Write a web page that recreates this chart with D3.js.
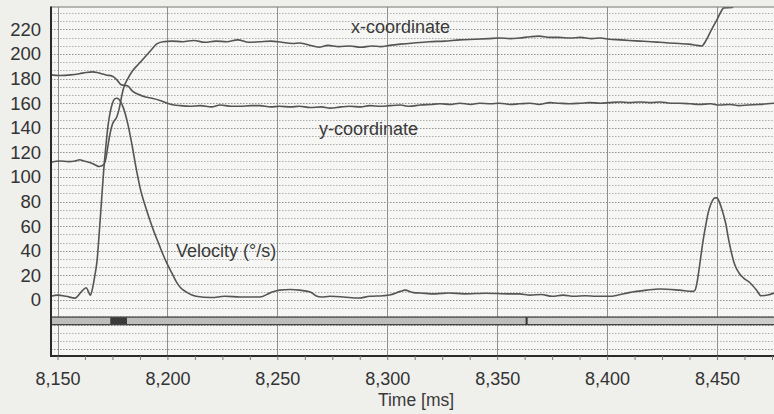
<!DOCTYPE html>
<html lang="en">
<head>
<meta charset="UTF-8">
<script src="https://d3js.org/d3.v7.min.js"></script>
<style>
    body { margin: 0; background: #efefec; }
    svg { display: block; font-family: "Liberation Sans", Arial, sans-serif; }
</style>
</head>
<body>
<div id="chart"></div>
<script>
// data: [time ms, value]
var xCoord = [
    [8147, 112], [8151, 113], [8155, 112.5], [8158, 113], [8160, 114], [8162, 113], [8165, 111.5],
    [8167, 110], [8169, 108.5], [8171, 110], [8172, 115], [8173, 126], [8174, 136], [8175, 143],
    [8177, 149], [8178, 155], [8179, 164], [8180, 172], [8182, 180], [8184, 186], [8187, 192],
    [8190, 198], [8193, 204], [8195, 208], [8198, 210], [8202, 210.5], [8207, 210], [8212, 211],
    [8217, 209.5], [8222, 210.5], [8227, 210], [8232, 211.5], [8237, 209.5], [8242, 210],
    [8247, 210.5], [8252, 209.5], [8257, 208.5], [8260, 209], [8264, 207.5], [8269, 205.5],
    [8273, 207], [8278, 206], [8283, 206.5], [8288, 205.5], [8293, 206.5], [8297, 206],
    [8301, 207], [8306, 208], [8312, 209], [8319, 210], [8326, 210.5], [8333, 211.5], [8340, 212],
    [8346, 212.5], [8351, 213], [8356, 212.5], [8360, 213], [8365, 214], [8369, 214.5],
    [8374, 213.5], [8378, 213.5], [8383, 213], [8388, 213.5], [8393, 212.5], [8397, 213],
    [8401, 212], [8406, 211.5], [8410, 211], [8415, 210.5], [8420, 210], [8424, 209.5],
    [8428, 209], [8433, 208.5], [8437, 208], [8441, 207], [8443, 206.5], [8445, 211],
    [8447, 218], [8450, 228], [8452, 235], [8453, 237.5], [8457, 237.8], [8459, 250], [8476, 260]
];
var yCoord = [
    [8147, 183], [8151, 182.5], [8156, 183], [8160, 184], [8163, 185], [8166, 185.5],
    [8168, 185], [8170, 184], [8172, 183], [8175, 182], [8177, 179], [8179, 175], [8182, 174],
    [8184, 170], [8187, 167], [8190, 165], [8193, 164], [8197, 162], [8200, 160], [8203, 158.5],
    [8206, 158], [8210, 157.5], [8215, 158], [8220, 157], [8224, 158.5], [8229, 157.5],
    [8233, 157.5], [8238, 158], [8242, 158], [8247, 157], [8251, 157.5], [8256, 157],
    [8260, 157.5], [8265, 156.5], [8270, 157], [8274, 156], [8279, 157], [8283, 157.5],
    [8288, 157], [8292, 158], [8297, 157.5], [8301, 158], [8306, 158.5], [8310, 157.5],
    [8315, 158.5], [8320, 159], [8324, 159.5], [8329, 159], [8333, 160], [8338, 159],
    [8342, 160], [8347, 159.5], [8351, 160], [8356, 159], [8360, 159.5], [8365, 160],
    [8369, 159], [8374, 160.5], [8378, 160], [8383, 159.5], [8388, 160], [8392, 160.5],
    [8397, 160], [8401, 160.5], [8406, 161], [8410, 160.5], [8415, 161], [8420, 160.5],
    [8424, 161], [8429, 160], [8433, 160], [8438, 159.5], [8442, 159], [8447, 159.5],
    [8451, 158.5], [8456, 159], [8460, 158], [8464, 158.5], [8469, 159], [8473, 159.5], [8476, 160]
];
var velocity = [
    [8147, 3], [8150, 4], [8154, 3], [8158, 1.5], [8161, 7], [8163, 10], [8165, 4], [8166, 10],
    [8167, 20], [8168, 32], [8169, 55], [8170, 80], [8171, 105], [8172, 125], [8173, 142],
    [8174, 153], [8175, 160], [8176, 163.5], [8177, 164], [8178, 163], [8180, 156], [8182, 143],
    [8184, 125], [8186, 105], [8188, 88], [8190, 76], [8192, 65], [8194, 55], [8196, 46],
    [8198, 37], [8200, 29], [8202, 22], [8204, 15], [8206, 10], [8209, 6], [8213, 3],
    [8220, 2], [8226, 3], [8233, 2.5], [8242, 2.4], [8247, 6], [8251, 8], [8256, 8.5],
    [8260, 8], [8265, 6.5], [8268, 3], [8270, 2.4], [8274, 3], [8280, 2.5], [8287, 1.6],
    [8292, 3], [8298, 3.5], [8301, 4], [8306, 7], [8308, 8], [8312, 6], [8315, 5.7], [8322, 5],
    [8328, 5.7], [8335, 5], [8345, 5.5], [8355, 5], [8360, 5], [8365, 4], [8370, 4.5],
    [8375, 3], [8380, 4], [8385, 3], [8390, 3.5], [8395, 3], [8401, 3], [8405, 4], [8410, 6],
    [8418, 8], [8424, 9], [8433, 8], [8439, 7], [8440, 8], [8441, 15], [8442, 27], [8443, 40],
    [8444, 52], [8445, 62], [8446, 71], [8447, 77], [8448, 81], [8449, 83], [8450, 83],
    [8451, 80], [8452, 75], [8453, 69], [8454, 62], [8455, 52], [8456, 43], [8458, 29],
    [8460, 22], [8462, 18], [8465, 14], [8468, 8], [8470, 3.5], [8473, 4], [8476, 5.7]
];
// state bar below the traces: [start, end] in ms
var saccadeSpan = [8174, 8181.6];
var barSplit = 8363.4;
var xTicks = [8150, 8200, 8250, 8300, 8350, 8400, 8450];
var yTicks = [0, 20, 40, 60, 80, 100, 120, 140, 160, 180, 200, 220];

var W = 774, H = 414;
var pLeft = 51, pTop = 7, pRight = 800, pBottom = 356;

var svg = d3.select("#chart").append("svg")
    .attr("width", W)
    .attr("height", H);

var xScale = d3.scaleLinear().domain([8150, 8450]).range([57.5, 717]);
var yScale = d3.scaleLinear().domain([0, 220]).range([300, 29.4]);

svg.append("defs").append("clipPath").attr("id", "plotclip")
    .append("rect")
    .attr("x", pLeft).attr("y", pTop)
    .attr("width", pRight - pLeft).attr("height", pBottom - pTop);

// plot background
svg.append("rect")
    .attr("x", pLeft).attr("y", pTop)
    .attr("width", pRight - pLeft).attr("height", pBottom - pTop)
    .attr("fill", "#f6f6f4");

// horizontal dotted grid, three lines per 20 units
var gridVals = d3.range(-40, 240, 20 / 3).filter(function (d) {
    return yScale(d) > pTop + 2 && yScale(d) < pBottom - 3;
});
svg.append("g").selectAll("line")
    .data(gridVals)
    .enter().append("line")
    .attr("x1", pLeft).attr("x2", pRight)
    .attr("y1", function (d) { return Math.round(yScale(d)) + 0.5; })
    .attr("y2", function (d) { return Math.round(yScale(d)) + 0.5; })
    .attr("stroke", "#808080")
    .attr("stroke-width", 1)
    .attr("stroke-dasharray", "1.5,1.5")
    .attr("opacity", function (d, i) { return i % 3 == 0 ? 0.85 : 0.6; });

// vertical grid at major ticks
svg.append("g").selectAll("line")
    .data(xTicks)
    .enter().append("line")
    .attr("x1", function (d) { return Math.round(xScale(d)) + 0.5; })
    .attr("x2", function (d) { return Math.round(xScale(d)) + 0.5; })
    .attr("y1", pTop).attr("y2", pBottom)
    .attr("stroke", "#909090")
    .attr("stroke-width", 1);

// state bar
var barTop = yScale(-14), barBot = yScale(-20);
svg.append("rect")
    .attr("x", pLeft).attr("y", barTop)
    .attr("width", xScale(barSplit) - pLeft).attr("height", barBot - barTop)
    .attr("fill", "#bdbdbb");
svg.append("rect")
    .attr("x", xScale(barSplit)).attr("y", barTop)
    .attr("width", pRight - xScale(barSplit)).attr("height", barBot - barTop)
    .attr("fill", "#cdcdcb");
svg.append("rect")
    .attr("x", xScale(saccadeSpan[0])).attr("y", barTop)
    .attr("width", xScale(saccadeSpan[1]) - xScale(saccadeSpan[0])).attr("height", barBot - barTop)
    .attr("fill", "#3a3a3a");
[barTop, barBot].forEach(function (y) {
    svg.append("line")
        .attr("x1", pLeft).attr("x2", pRight)
        .attr("y1", y).attr("y2", y)
        .attr("stroke", "#444").attr("stroke-width", 1.3);
});
svg.append("line")
    .attr("x1", xScale(barSplit)).attr("x2", xScale(barSplit))
    .attr("y1", barTop).attr("y2", barBot)
    .attr("stroke", "#333").attr("stroke-width", 2);

// traces
var line = d3.line()
    .curve(d3.curveMonotoneX)
    .x(function (d) { return xScale(d[0]); })
    .y(function (d) { return yScale(d[1]); });

var traces = svg.append("g").attr("clip-path", "url(#plotclip)");
[xCoord, yCoord, velocity].forEach(function (series) {
    traces.append("path")
        .datum(series)
        .attr("d", line)
        .attr("fill", "none")
        .attr("stroke", "#555")
        .attr("stroke-width", 1.6)
        .attr("stroke-linejoin", "round");
});

// frame
svg.append("line")
    .attr("x1", pLeft).attr("x2", W).attr("y1", pTop).attr("y2", pTop)
    .attr("stroke", "#777").attr("stroke-width", 1);
svg.append("line")
    .attr("x1", pLeft).attr("x2", pLeft).attr("y1", pTop - 0.5).attr("y2", pBottom + 1)
    .attr("stroke", "#2a2a2a").attr("stroke-width", 2);
svg.append("line")
    .attr("x1", pLeft).attr("x2", W).attr("y1", pBottom).attr("y2", pBottom)
    .attr("stroke", "#2a2a2a").attr("stroke-width", 2);

// x axis: labels plus minor ticks every 12.5 ms
var xAxis = d3.axisBottom(xScale)
    .tickValues(d3.range(8150, 8480, 12.5))
    .tickSize(4)
    .tickFormat(function (d) { return xTicks.indexOf(d) >= 0 ? d3.format(",")(d) : ""; });
var gx = svg.append("g")
    .attr("transform", "translate(0," + pBottom + ")")
    .call(xAxis);
gx.select(".domain").remove();
gx.selectAll(".tick line").attr("stroke", "#777");
gx.selectAll(".tick text")
    .attr("y", 16)
    .attr("dy", "0.71em")
    .attr("font-size", "18px")
    .attr("font-family", "Liberation Sans, Arial, sans-serif")
    .attr("fill", "#333");

// y axis labels
var yAxis = d3.axisLeft(yScale)
    .tickValues(yTicks)
    .tickSize(0)
    .tickPadding(10);
var gy = svg.append("g")
    .attr("transform", "translate(" + pLeft + ",0)")
    .call(yAxis);
gy.select(".domain").remove();
gy.selectAll(".tick text")
    .attr("font-size", "18.5px")
    .attr("font-family", "Liberation Sans, Arial, sans-serif")
    .attr("fill", "#333");

// series labels
var labels = [
    { text: "x-coordinate", x: 351, y: 33 },
    { text: "y-coordinate", x: 319, y: 135 },
    { text: "Velocity (°/s)", x: 176, y: 257 }
];
svg.selectAll("text.lab")
    .data(labels)
    .enter().append("text")
    .attr("class", "lab")
    .attr("x", function (d) { return d.x; })
    .attr("y", function (d) { return d.y; })
    .attr("font-size", "18px")
    .attr("fill", "#3a3a3a")
    .text(function (d) { return d.text; });

svg.append("text")
    .attr("x", 416).attr("y", 406)
    .attr("text-anchor", "middle")
    .attr("font-size", "17.5px")
    .attr("fill", "#3a3a3a")
    .text("Time [ms]");
</script>
</body>
</html>
